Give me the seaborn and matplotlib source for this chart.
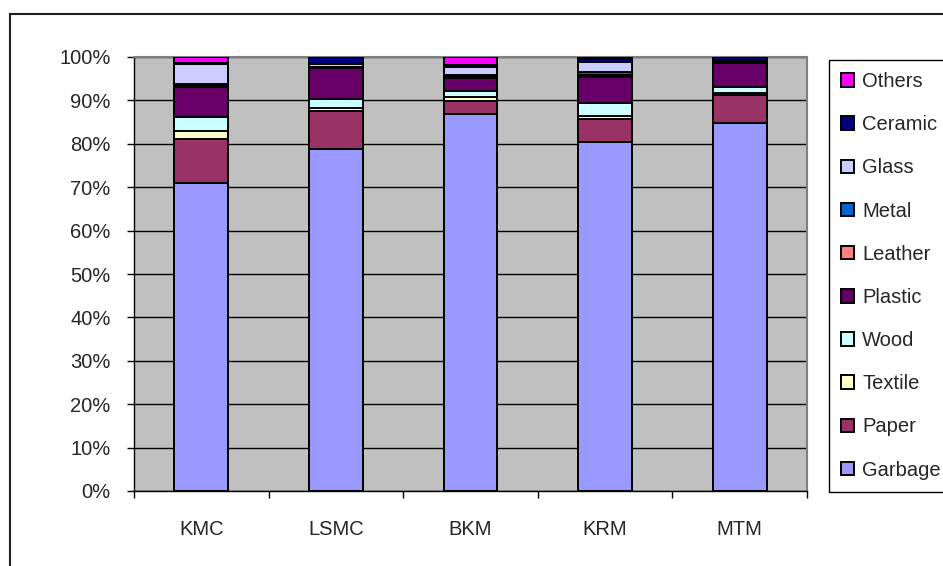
import matplotlib
matplotlib.use("Agg")
import matplotlib.pyplot as plt
from matplotlib.patches import Patch, Rectangle
import numpy as np
import pandas as pd
import seaborn as sns

# Municipal solid waste composition by site (percent of total)
sites = ["KMC", "LSMC", "BKM", "KRM", "MTM"]
components = ["Garbage", "Paper", "Textile", "Wood", "Plastic",
              "Leather", "Metal", "Glass", "Ceramic", "Others"]

garbage = [71.0, 78.8, 86.9, 80.3, 84.7]
paper   = [10.0,  8.8,  3.0,  5.5,  6.6]
textile = [ 2.0,  0.6,  0.8,  0.7,  0.3]
wood    = [ 3.2,  2.2,  1.5,  2.8,  1.6]
plastic = [ 6.8,  7.0,  3.0,  6.2,  5.5]
leather = [ 0.3,  0.0,  0.3,  0.3,  0.0]
metal   = [ 0.5,  0.3,  0.3,  0.7,  0.2]
glass   = [ 4.5,  0.6,  1.9,  2.3,  0.2]
ceramic = [ 0.3,  1.7,  0.4,  0.8,  0.9]
others  = [ 1.4,  0.0,  1.9,  0.4,  0.0]

colors = {
    "Garbage": "#9999FF", "Paper": "#993366", "Textile": "#FFFFCC",
    "Wood": "#CCFFFF", "Plastic": "#660066", "Leather": "#FF8080",
    "Metal": "#0066CC", "Glass": "#CCCCFF", "Ceramic": "#000080",
    "Others": "#FF00FF",
}

values = pd.DataFrame(
    [garbage, paper, textile, wood, plastic, leather, metal, glass, ceramic, others],
    index=components, columns=sites,
).T
shares = values.div(values.sum(axis=1), axis=0) * 100
cumulative = shares.cumsum(axis=1)

sns.set_style("white")
plt.rcParams["font.family"] = ["Liberation Sans", "DejaVu Sans"]

fig = plt.figure(figsize=(9.43, 5.66), dpi=100)
ax = fig.add_axes([134 / 943, 1 - 491 / 566, 673 / 943, 434 / 566])
ax.set_facecolor("#C0C0C0")

# Stack by overdrawing cumulative totals from the top component downwards
for comp in reversed(components):
    df = pd.DataFrame({"site": sites, "value": cumulative[comp].values})
    sns.barplot(data=df, x="site", y="value", color=colors[comp],
                saturation=1, width=0.4, edgecolor="black", linewidth=1.4,
                ax=ax, zorder=3)

ax.set_ylim(0, 100)
ax.set_xlim(-0.5, len(sites) - 0.5)
ax.set_yticks(np.arange(0, 101, 10))
ax.set_yticklabels([f"{v}%" for v in range(0, 101, 10)])
ax.yaxis.grid(True, color="black", linewidth=1.0, zorder=0)
ax.set_axisbelow(True)

ax.set_xticks(np.arange(-0.5, len(sites), 1.0))
ax.set_xticklabels([])
ax.set_xticks(np.arange(len(sites)), minor=True)
ax.set_xticklabels(sites, minor=True)
ax.tick_params(axis="x", which="major", direction="out", length=5,
               width=1, color="black", bottom=True)
ax.tick_params(axis="x", which="minor", length=0, pad=21, labelsize=14.5)
ax.tick_params(axis="y", direction="out", length=5, width=1,
               color="black", left=True, pad=12, labelsize=14.5)
ax.set_xlabel("")
ax.set_ylabel("")

for side in ("left", "bottom"):
    ax.spines[side].set_color("black")
    ax.spines[side].set_linewidth(1.0)
for side in ("top", "right"):
    ax.spines[side].set_color("#808080")
    ax.spines[side].set_linewidth(1.5)

handles = [Patch(facecolor=colors[c], edgecolor="black", linewidth=1.4, label=c)
           for c in reversed(components)]
leg = fig.legend(handles=handles, loc="upper left",
                 bbox_to_anchor=(829 / 943, 1 - 60 / 566),
                 fontsize=14.5, frameon=True, fancybox=False, shadow=False,
                 edgecolor="black", facecolor="white", framealpha=1,
                 handlelength=0.65, handleheight=0.65, handletextpad=0.4,
                 labelspacing=1.2, borderpad=0.6, borderaxespad=0)
leg.get_frame().set_linewidth(1.0)

# Chart-area border
fig.patches.append(Rectangle((10 / 943, -0.2), 1.2, 1.2 - 14 / 566,
                             transform=fig.transFigure, fill=False,
                             edgecolor="#202020", linewidth=1.5, zorder=0))

fig.savefig("out.png", dpi=100)
